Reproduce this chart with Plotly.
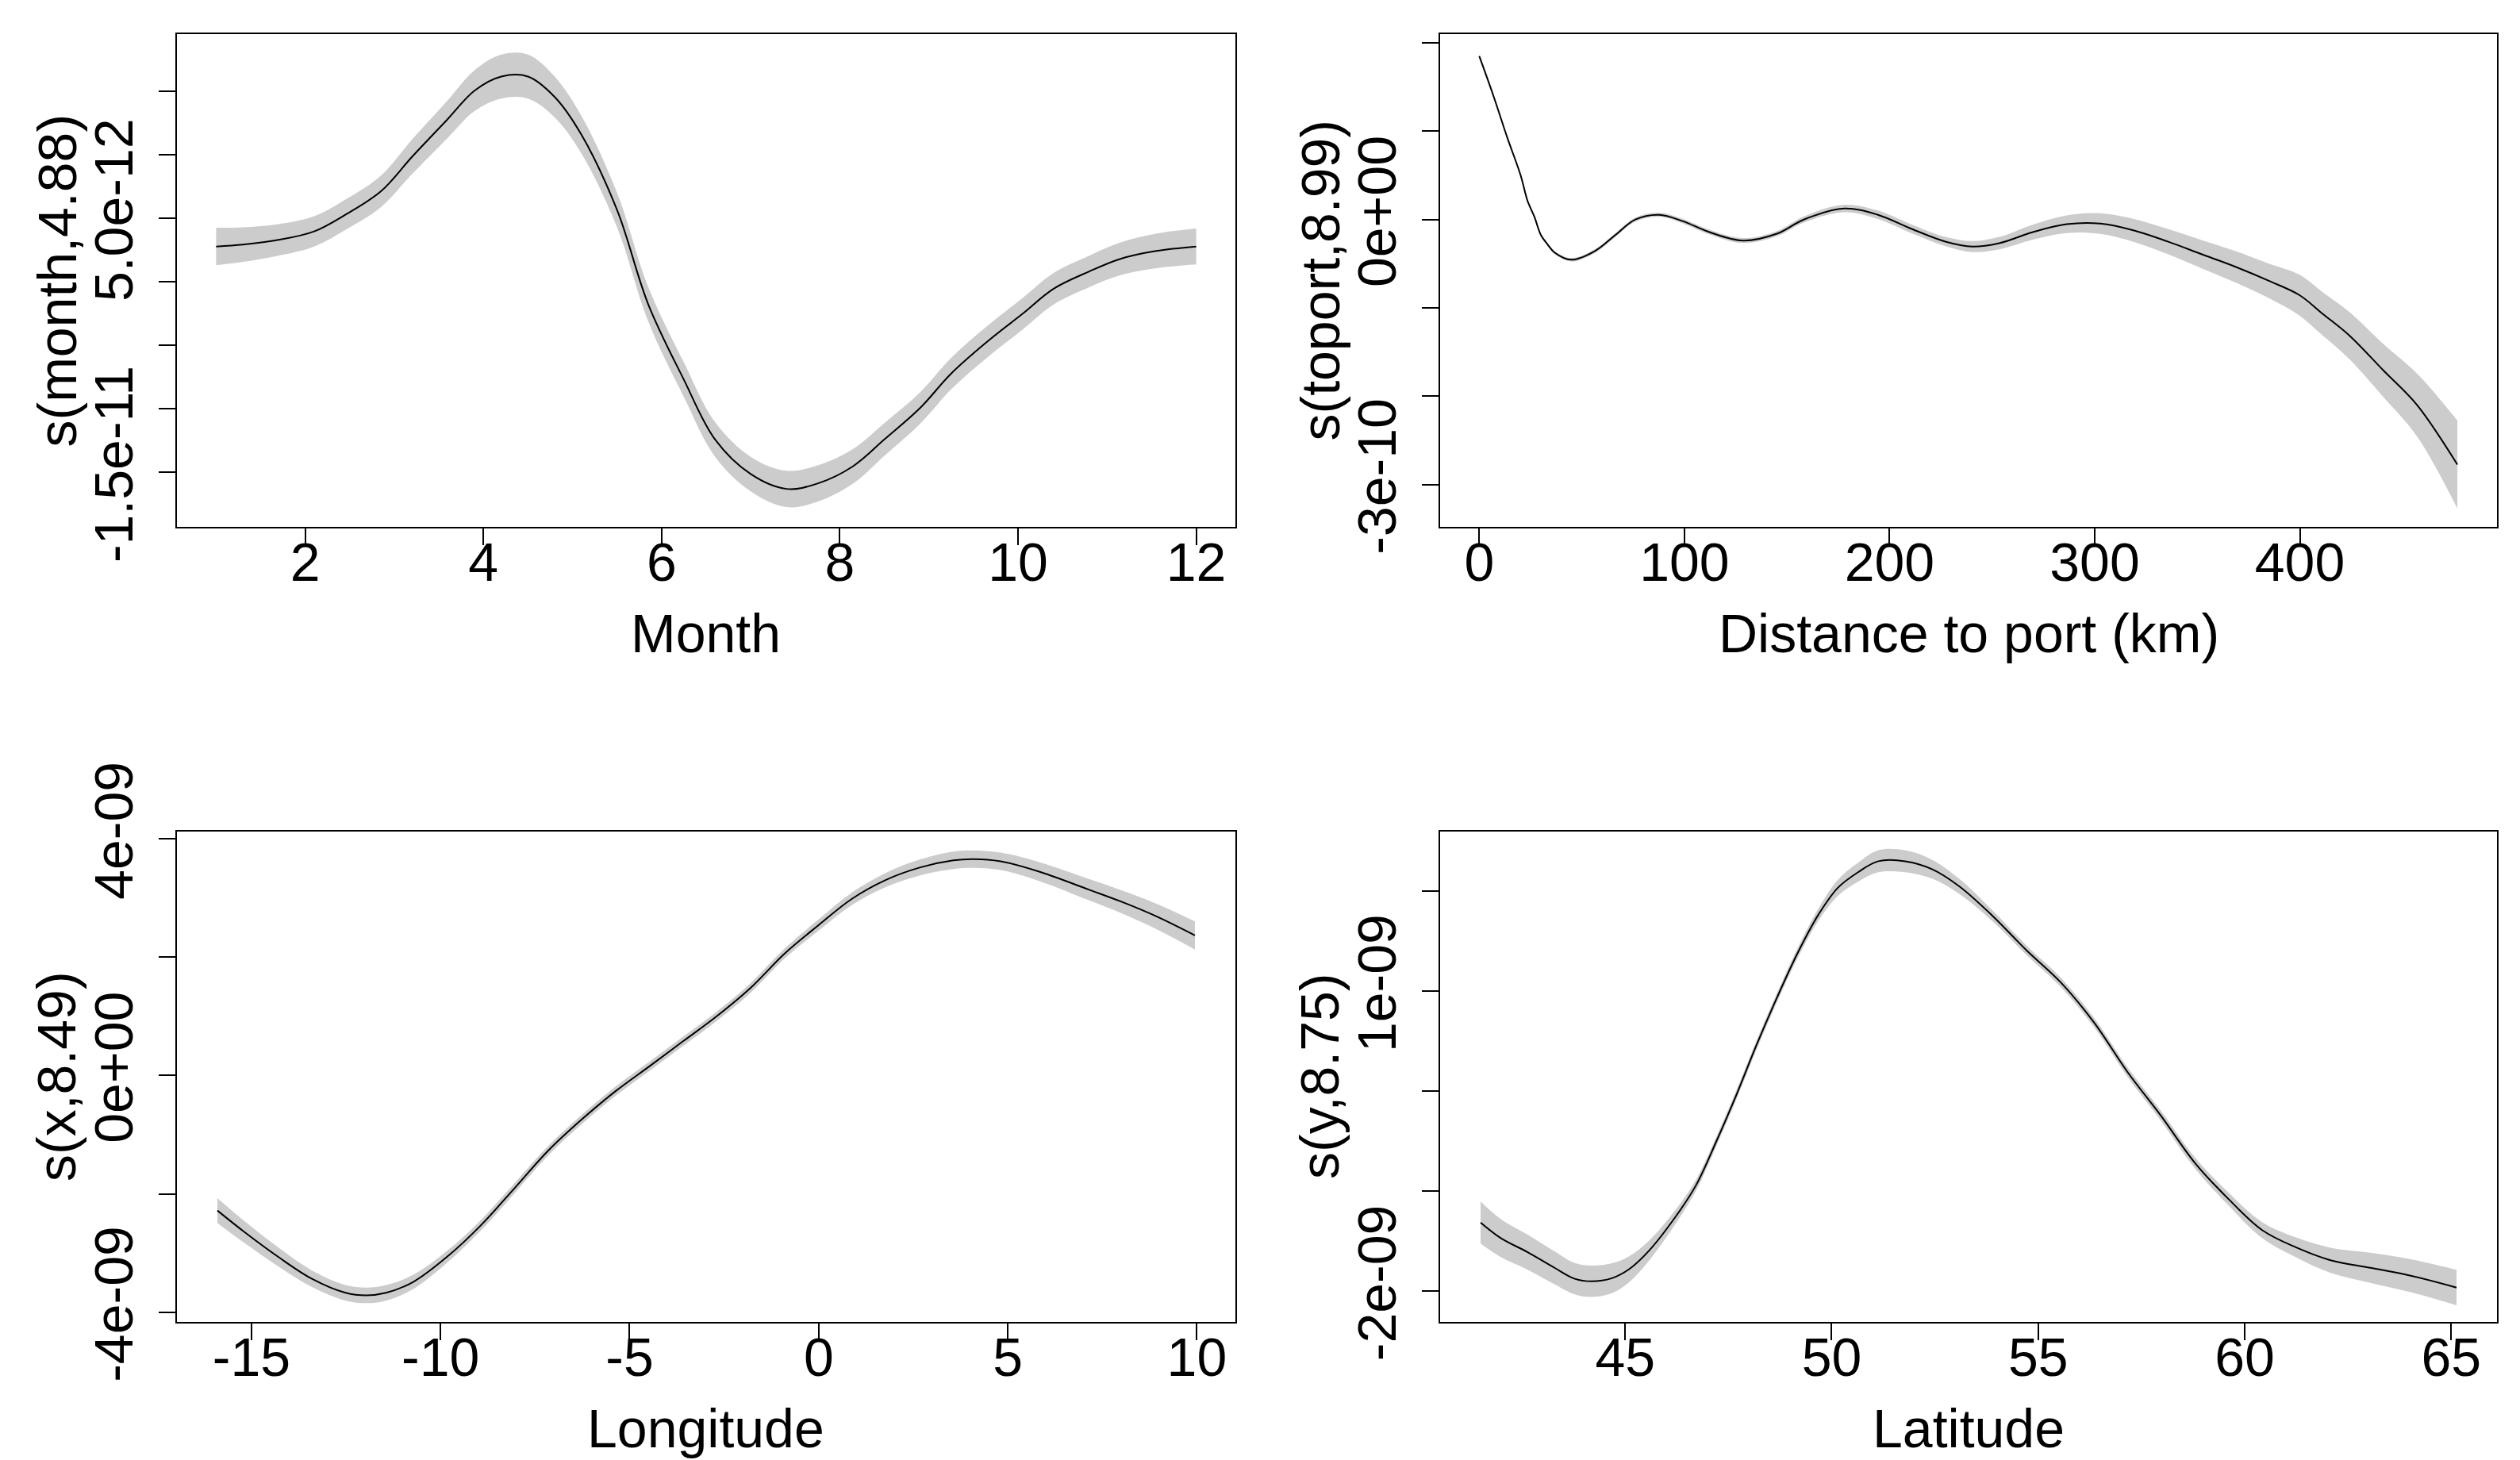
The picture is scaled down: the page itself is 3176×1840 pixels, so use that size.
import plotly.graph_objects as go

# ---------------- data ----------------
month = [1.0, 1.3, 1.7, 2.1, 2.45, 2.85, 3.2, 3.6, 3.9, 4.2, 4.5, 4.8, 5.1, 5.5, 5.85,
         6.25, 6.6, 7.0, 7.4, 7.75, 8.15, 8.5, 8.9, 9.25, 9.65, 10.05, 10.4, 10.8,
         11.15, 11.55, 12.0]
s_month = [2.77e-12, 2.92e-12, 3.29e-12, 3.96e-12, 5.27e-12, 7.12e-12, 9.84e-12,
           1.281e-11, 1.504e-11, 1.615e-11, 1.615e-11, 1.454e-11, 1.157e-11, 5.64e-12,
           -1.78e-12, -7.72e-12, -1.242e-11, -1.514e-11, -1.631e-11, -1.589e-11,
           -1.452e-11, -1.242e-11, -9.95e-12, -7.23e-12, -4.75e-12, -2.53e-12,
           -5.5e-13, 8.1e-13, 1.80e-12, 2.42e-12, 2.77e-12]
se_month = [1.48e-12, 1.36e-12, 1.24e-12, 1.19e-12, 1.19e-12, 1.24e-12, 1.36e-12,
            1.48e-12, 1.61e-12, 1.73e-12, 1.73e-12, 1.61e-12, 1.48e-12, 1.36e-12,
            1.36e-12, 1.36e-12, 1.36e-12, 1.36e-12, 1.43e-12, 1.43e-12, 1.36e-12,
            1.29e-12, 1.24e-12, 1.24e-12, 1.24e-12, 1.24e-12, 1.24e-12, 1.24e-12,
            1.29e-12, 1.36e-12, 1.41e-12]

toport = [0, 7.1, 13.7, 20.2, 23.5, 26.8, 30.1, 33.4, 36.7, 44.9, 56.4, 66.2, 76.1,
          87.6, 99.1, 112.2, 128.6, 145.1, 158.2, 177.9, 194.3, 210.8, 227.2, 240.3,
          253.5, 269.9, 286.3, 302.7, 319.2, 335.6, 352.0, 368.4, 384.9, 399.7, 411.1,
          424.3, 440.7, 457.1, 476.8]
s_toport = [1.851e-10, 1.388e-10, 0.926e-10, 0.499e-10, 0.214e-10, 0.036e-10,
            -0.178e-10, -0.284e-10, -0.373e-10, -0.455e-10, -0.356e-10, -0.178e-10,
            0.000e-10, 0.054e-10, -0.017e-10, -0.142e-10, -0.238e-10, -0.160e-10,
            0.000e-10, 0.125e-10, 0.054e-10, -0.106e-10, -0.249e-10, -0.306e-10,
            -0.267e-10, -0.142e-10, -0.053e-10, -0.046e-10, -0.124e-10, -0.249e-10,
            -0.391e-10, -0.533e-10, -0.694e-10, -0.854e-10, -1.067e-10, -1.316e-10,
            -1.708e-10, -2.099e-10, -2.775e-10]
se_toport = [0.005e-10, 0.008e-10, 0.010e-10, 0.012e-10, 0.014e-10, 0.015e-10,
             0.016e-10, 0.017e-10, 0.018e-10, 0.020e-10, 0.021e-10, 0.022e-10,
             0.023e-10, 0.024e-10, 0.025e-10, 0.026e-10, 0.028e-10, 0.030e-10,
             0.035e-10, 0.043e-10, 0.048e-10, 0.050e-10, 0.053e-10, 0.062e-10,
             0.071e-10, 0.085e-10, 0.100e-10, 0.117e-10, 0.130e-10, 0.142e-10,
             0.160e-10, 0.178e-10, 0.196e-10, 0.231e-10, 0.245e-10, 0.267e-10,
             0.300e-10, 0.356e-10, 0.498e-10]

lon = [-15.90, -15.19, -14.29, -13.40, -12.51, -11.97, -11.44, -10.72, -9.83, -8.94,
       -8.04, -7.15, -6.26, -5.37, -4.47, -3.58, -2.69, -1.80, -0.90, -0.01, 0.88,
       1.77, 2.67, 3.56, 4.09, 4.81, 5.88, 7.13, 8.02, 8.91, 9.95]
s_lon = [-2.283e-9, -2.643e-9, -3.066e-9, -3.436e-9, -3.673e-9, -3.716e-9, -3.673e-9,
         -3.488e-9, -3.066e-9, -2.537e-9, -1.903e-9, -1.269e-9, -0.740e-9, -0.265e-9,
         0.158e-9, 0.581e-9, 1.004e-9, 1.480e-9, 2.061e-9, 2.537e-9, 2.986e-9,
         3.303e-9, 3.514e-9, 3.636e-9, 3.657e-9, 3.620e-9, 3.435e-9, 3.144e-9,
         2.933e-9, 2.695e-9, 2.367e-9]
se_lon = [0.211e-9, 0.185e-9, 0.160e-9, 0.140e-9, 0.132e-9, 0.132e-9, 0.132e-9,
          0.120e-9, 0.100e-9, 0.090e-9, 0.085e-9, 0.080e-9, 0.079e-9, 0.079e-9,
          0.079e-9, 0.079e-9, 0.079e-9, 0.082e-9, 0.085e-9, 0.095e-9, 0.106e-9,
          0.120e-9, 0.135e-9, 0.148e-9, 0.148e-9, 0.148e-9, 0.160e-9, 0.180e-9,
          0.195e-9, 0.215e-9, 0.238e-9]

lat = [41.50, 41.99, 42.64, 43.29, 43.78, 44.19, 44.68, 45.09, 45.58, 46.23, 46.72,
       47.21, 47.70, 48.19, 48.68, 49.17, 49.66, 50.15, 50.64, 51.13, 51.78, 52.43,
       53.09, 53.90, 54.72, 55.53, 56.35, 57.17, 57.98, 58.80, 59.61, 60.43, 61.25,
       62.06, 63.04, 64.02, 65.13]
s_lat = [-1.314e-9, -1.470e-9, -1.611e-9, -1.767e-9, -1.877e-9, -1.902e-9, -1.871e-9,
         -1.783e-9, -1.595e-9, -1.251e-9, -0.938e-9, -0.500e-9, -0.030e-9, 0.471e-9,
         0.940e-9, 1.378e-9, 1.754e-9, 2.036e-9, 2.192e-9, 2.302e-9, 2.302e-9,
         2.223e-9, 2.051e-9, 1.754e-9, 1.410e-9, 1.097e-9, 0.690e-9, 0.189e-9,
         -0.249e-9, -0.719e-9, -1.079e-9, -1.392e-9, -1.564e-9, -1.689e-9,
         -1.767e-9, -1.846e-9, -1.965e-9]
se_lat = [0.210e-9, 0.190e-9, 0.175e-9, 0.165e-9, 0.157e-9, 0.157e-9, 0.150e-9,
          0.130e-9, 0.100e-9, 0.070e-9, 0.055e-9, 0.047e-9, 0.047e-9, 0.047e-9,
          0.047e-9, 0.050e-9, 0.060e-9, 0.080e-9, 0.095e-9, 0.110e-9, 0.110e-9,
          0.095e-9, 0.075e-9, 0.055e-9, 0.047e-9, 0.047e-9, 0.047e-9, 0.047e-9,
          0.050e-9, 0.055e-9, 0.065e-9, 0.080e-9, 0.100e-9, 0.125e-9, 0.150e-9,
          0.165e-9, 0.178e-9]

# tick values and labels
month_ticks = [2, 4, 6, 8, 10, 12]
toport_ticks = [0, 100, 200, 300, 400]
lon_ticks = [-15, -10, -5, 0, 5, 10]
lat_ticks = [45, 50, 55, 60, 65]

y1_ticks = [-1.5e-11, -1.0e-11, -5.0e-12, 0, 5.0e-12, 1.0e-11, 1.5e-11]
y1_text = ["-1.5e-11", "", "", "", "5.0e-12", "", ""]
y2_ticks = [-3e-10, -2e-10, -1e-10, 0, 1e-10, 2e-10]
y2_text = ["-3e-10", "", "", "0e+00", "", ""]
y3_ticks = [-4e-9, -2e-9, 0, 2e-9, 4e-9]
y3_text = ["-4e-09", "", "0e+00", "", "4e-09"]
y4_ticks = [-2e-9, -1e-9, 0, 1e-9, 2e-9]
y4_text = ["-2e-09", "", "", "1e-09", ""]

x_titles = ["Month", "Distance to port (km)", "Longitude", "Latitude"]
y_titles = ["s(month,4.88)", "s(toport,8.99)", "s(x,8.49)", "s(y,8.75)"]

# ---------------- figure ----------------
W, H = 3176, 1840
OFF = 8  # page body margin: convert window pixels to figure pixels
FONT = "Liberation Sans, Arial, sans-serif"
FS = 68

panels = [
    dict(x=month, s=s_month, se=se_month, xt=month_ticks, yt=y1_ticks, ytt=y1_text,
         xr=[0.56, 12.44], yr=[-1.930e-11, 1.949e-11],
         px=(223, 1557), py=(43, 664)),
    dict(x=toport, s=s_toport, se=se_toport, xt=toport_ticks, yt=y2_ticks, ytt=y2_text,
         xr=[-19.08, 496.1], yr=[-3.48e-10, 2.10e-10],
         px=(1815, 3147), py=(43, 664)),
    dict(x=lon, s=s_lon, se=se_lon, xt=lon_ticks, yt=y3_ticks, ytt=y3_text,
         xr=[-16.97, 11.02], yr=[-4.165e-9, 4.122e-9],
         px=(223, 1557), py=(1048, 1666)),
    dict(x=lat, s=s_lat, se=se_lat, xt=lat_ticks, yt=y4_ticks, ytt=y4_text,
         xr=[40.52, 66.11], yr=[-2.309e-9, 2.599e-9],
         px=(1815, 3147), py=(1048, 1666)),
]


def fx(px):
    return (px - OFF) / W


def fy(py):
    return 1 - (py - OFF) / H


fig = go.Figure()
layout = dict(width=W, height=H, margin=dict(l=0, r=0, t=0, b=0, autoexpand=False),
              paper_bgcolor="white", plot_bgcolor="white", showlegend=False,
              font=dict(family=FONT, size=FS, color="black"))
annotations = []

for i, p in enumerate(panels):
    n = "" if i == 0 else str(i + 1)
    xa, ya = "x" + n, "y" + n
    upper = [m + e for m, e in zip(p["s"], p["se"])]
    lower = [m - e for m, e in zip(p["s"], p["se"])]
    fig.add_trace(go.Scatter(x=p["x"], y=upper, mode="lines", line=dict(width=0, shape="spline"),
                             xaxis=xa, yaxis=ya, hoverinfo="skip"))
    fig.add_trace(go.Scatter(x=p["x"], y=lower, mode="lines", line=dict(width=0, shape="spline"),
                             fill="tonexty", fillcolor="#CCCCCC", xaxis=xa, yaxis=ya,
                             hoverinfo="skip"))
    fig.add_trace(go.Scatter(x=p["x"], y=p["s"], mode="lines",
                             line=dict(color="black", width=2, shape="spline"),
                             xaxis=xa, yaxis=ya))
    x0, x1 = p["px"]
    y0, y1 = p["py"]
    common = dict(showgrid=False, zeroline=False, showline=True, mirror=True,
                  linecolor="black", linewidth=2, ticks="outside", ticklen=21,
                  tickwidth=2, tickcolor="black", automargin=False,
                  tickfont=dict(family=FONT, size=FS, color="black"))
    layout["xaxis" + n] = dict(common, domain=[fx(x0), fx(x1)], range=p["xr"], anchor=ya,
                               tickmode="array", tickvals=p["xt"],
                               ticktext=[str(v) for v in p["xt"]],
                               ticklabelstandoff=-37)
    layout["yaxis" + n] = dict(common, domain=[fy(y1), fy(y0)], range=p["yr"], anchor=xa,
                               tickmode="array", tickvals=p["yt"], ticktext=p["ytt"],
                               tickangle=-90, ticklabelstandoff=6)
    # axis titles
    annotations.append(dict(text=x_titles[i], xref="paper", yref="paper",
                            x=fx((x0 + x1) / 2), y=fy(y1 + 134),
                            xanchor="center", yanchor="middle", showarrow=False,
                            font=dict(family=FONT, size=FS, color="black")))
    annotations.append(dict(text=y_titles[i], xref="paper", yref="paper",
                            x=fx(x0 - 152), y=fy((y0 + y1) / 2),
                            xanchor="center", yanchor="middle", showarrow=False,
                            textangle=-90,
                            font=dict(family=FONT, size=FS, color="black")))

layout["annotations"] = annotations
fig.update_layout(**layout)
fig.write_html("out.html")
